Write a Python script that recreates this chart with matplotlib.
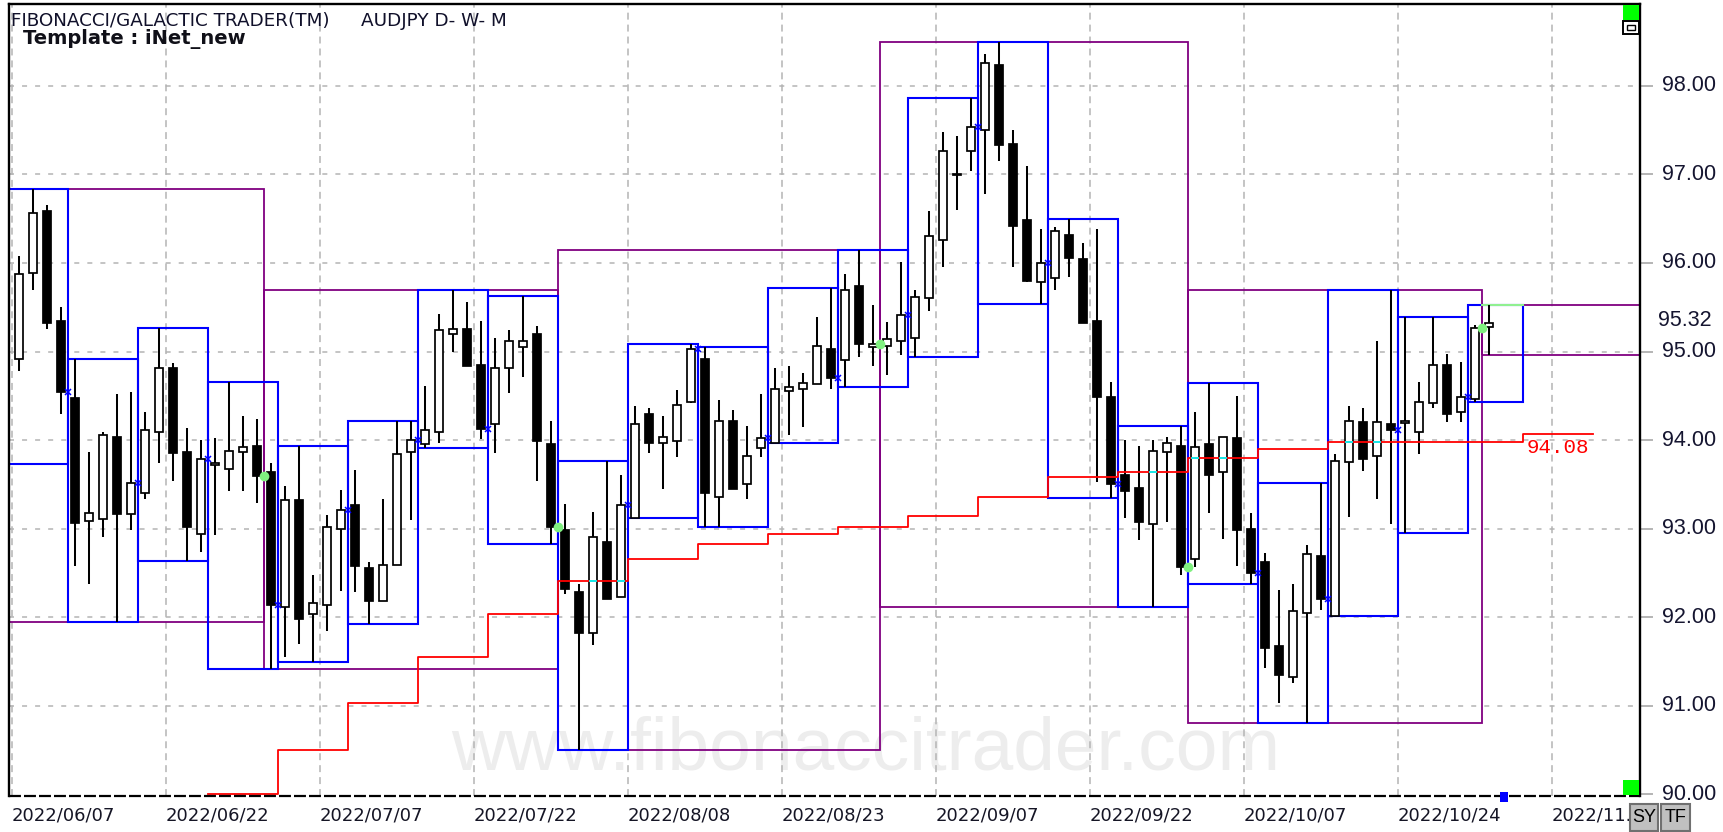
import numpy as np
import pandas as pd
import matplotlib
matplotlib.use("Agg")
import matplotlib.pyplot as plt
from matplotlib.patches import Rectangle
from matplotlib.transforms import blended_transform_factory as btf

plt.rcParams['lines.scale_dashes'] = False

# ---------------- data (AUDJPY daily) ----------------
start_date = "2022-06-07"
opens = [94.91, 95.885, 96.59, 95.35, 94.47, 93.09, 93.11, 94.04, 93.16, 93.40,
         94.09, 94.81, 93.86, 92.94, 93.72, 93.67, 93.86, 93.93, 93.64, 92.12,
         93.32, 92.03, 92.14, 93.00, 93.27, 92.55, 92.18, 92.59, 93.86, 93.96,
         94.09, 95.20, 95.26, 94.85, 94.18, 94.81, 95.05, 95.20, 93.95, 92.98,
         92.28, 91.82, 92.85, 92.23, 93.12, 94.30, 93.97, 93.99, 94.43, 94.91,
         93.36, 94.22, 93.50, 93.91, 93.97, 94.55, 94.58, 94.63, 95.03, 94.90,
         95.74, 95.05, 95.06, 95.12, 95.15, 95.60, 96.26, 96.99, 97.27, 97.50,
         98.24, 97.34, 96.48, 95.78, 95.83, 96.32, 96.05, 95.35, 94.49, 93.60,
         93.46, 93.05, 93.86, 93.93, 92.66, 93.95, 93.64, 94.02, 93.00, 92.62,
         91.67, 91.32, 92.05, 92.69, 92.01, 93.75, 94.20, 93.82, 94.18, 94.19,
         94.09, 94.42, 94.85, 94.32, 94.46, 95.28]
highs = [96.08, 96.83, 96.66, 95.50, 94.92, 93.86, 94.09, 94.52, 94.54, 94.32,
         95.27, 94.87, 94.14, 94.00, 94.02, 94.66, 94.27, 94.24, 93.74, 93.48,
         93.93, 92.48, 93.15, 93.44, 93.66, 92.62, 93.34, 94.21, 94.21, 94.61,
         95.42, 95.70, 95.56, 95.35, 95.15, 95.24, 95.63, 95.29, 94.22, 93.28,
         92.37, 93.19, 93.76, 93.60, 94.38, 94.36, 94.27, 94.57, 95.08, 95.05,
         94.45, 94.34, 94.16, 94.52, 94.81, 94.84, 94.76, 95.39, 95.72, 95.88,
         96.15, 95.53, 95.33, 96.01, 95.69, 96.59, 97.48, 97.43, 97.86, 98.36,
         98.50, 97.50, 97.09, 96.38, 96.41, 96.50, 96.23, 96.38, 94.66, 94.00,
         93.93, 94.00, 94.04, 94.16, 94.32, 94.64, 94.04, 94.50, 93.18, 92.73,
         92.31, 92.37, 92.81, 93.51, 93.84, 94.38, 94.36, 95.12, 95.69, 95.39,
         94.66, 95.39, 94.97, 94.88, 95.30, 95.53]
lows = [94.78, 95.70, 95.26, 94.29, 92.58, 92.38, 92.91, 91.95, 92.98, 93.34,
        93.74, 93.54, 92.63, 92.74, 92.93, 93.42, 93.42, 93.29, 91.41, 91.55,
        91.70, 91.49, 91.84, 92.29, 92.28, 91.92, 92.18, 92.59, 93.10, 93.91,
        93.97, 94.99, 94.84, 94.01, 93.85, 94.53, 94.71, 93.54, 92.83, 92.26,
        90.50, 91.68, 92.20, 92.23, 93.12, 93.85, 93.45, 93.81, 94.42, 93.02,
        93.02, 93.45, 93.34, 93.81, 93.97, 94.06, 94.15, 94.63, 94.58, 94.60,
        94.94, 94.84, 94.73, 94.96, 94.94, 95.46, 95.96, 96.60, 97.04, 96.78,
        97.15, 95.96, 95.78, 95.54, 95.69, 95.84, 95.32, 93.53, 93.35, 93.12,
        92.87, 92.11, 93.08, 92.48, 92.57, 93.18, 92.88, 92.58, 92.38, 91.43,
        91.03, 91.26, 90.81, 92.08, 92.01, 93.13, 93.65, 93.34, 93.05, 92.95,
        93.84, 94.36, 94.20, 94.20, 94.43, 94.96]
closes = [95.87, 96.57, 95.32, 94.54, 93.06, 93.18, 94.06, 93.17, 93.52, 94.11,
          94.81, 93.85, 93.02, 93.79, 93.74, 93.88, 93.92, 93.59, 92.14, 93.32,
          91.98, 92.16, 93.02, 93.21, 92.58, 92.18, 92.59, 93.84, 94.00, 94.11,
          95.24, 95.26, 94.84, 94.13, 94.81, 95.12, 95.12, 93.99, 93.02, 92.32,
          91.82, 92.91, 92.21, 93.27, 94.18, 93.97, 94.03, 94.40, 95.03, 93.40,
          94.22, 93.45, 93.82, 94.02, 94.58, 94.60, 94.65, 95.06, 94.70, 95.69,
          95.08, 95.08, 95.14, 95.41, 95.62, 96.30, 97.27, 97.01, 97.54, 98.26,
          97.33, 96.42, 95.80, 96.00, 96.36, 96.06, 95.32, 94.49, 93.50, 93.43,
          93.08, 93.88, 93.97, 92.57, 93.92, 93.61, 94.04, 92.98, 92.50, 91.65,
          91.35, 92.07, 92.71, 92.20, 93.76, 94.22, 93.79, 94.20, 94.11, 94.21,
          94.43, 94.85, 94.29, 94.49, 95.27, 95.32]
# off-chart bar of Mon 2022/06/06 (part of the first week / month range)
pre_high, pre_low = 94.60, 93.73
# weekly red step level (weeks starting 2022/06/27 ... 2022/10/31) and next-week level
red_levels = [90.00, 90.50, 91.03, 91.55, 92.03, 92.41, 92.66, 92.83, 92.94, 93.02,
              93.14, 93.36, 93.58, 93.64, 93.80, 93.90, 93.98, 93.98, 93.98]
red_next = 94.07
red_label = "94.08"
# the last label is cut by the SY button in the original
tick_labels = ["2022/06/07", "2022/06/22", "2022/07/07", "2022/07/22", "2022/08/08",
               "2022/08/23", "2022/09/07", "2022/09/22", "2022/10/07", "2022/10/24",
               "2022/11."]
tick_step = 11
price_ticks = [90, 91, 92, 93, 94, 95, 96, 97, 98]
title1 = "FIBONACCI/GALACTIC TRADER(TM)"
title2 = "AUDJPY D- W- M"
title3 = "Template : iNet_new"
watermark = "www.fibonaccitrader.com"

# ---------------- setup ----------------
O = np.array(opens); Hh = np.array(highs); L = np.array(lows); C = np.array(closes)
n = len(O)
dates = pd.bdate_range(start_date, periods=n)

W, H = 1724, 832
fig = plt.figure(figsize=(W / 100, H / 100), dpi=100, facecolor='white')
ax = fig.add_axes([9 / W, 1 - 796 / H, (1640 - 9) / W, 792 / H])
ax.set_facecolor('white')
ax.set_xlim(-10 / 14, (1640 - 19) / 14)
ax.set_ylim(89.98, 98.925)
ax.set_xticks([]); ax.set_yticks([])
for s in ['left', 'top', 'right']:
    ax.spines[s].set_linewidth(1.7)
    ax.spines[s].set_color('black')
ax.spines['bottom'].set_visible(False)
ax.plot([0, 1], [0, 0], transform=ax.transAxes, color='black', lw=1.6,
        dashes=(8.6, 2.2), clip_on=False, zorder=6)

GRID = '#b4b4b4'
for k in range(0, 111, tick_step):
    ax.axvline(k - 0.5, color=GRID, lw=1.1, dashes=(5, 3.6), zorder=1)
for p in price_ticks[1:]:
    ax.axhline(p, color=GRID, lw=1.1, dashes=(3.6, 5.8), zorder=1)


def px(x):
    return x / W


def py(y):
    return 1 - y / H


def ranges(keys):
    keys = np.asarray(keys.astype(str))
    out = []
    for u in pd.unique(keys):
        sel = np.where(keys == u)[0]
        out.append([sel[0], sel[-1], Hh[sel].max(), L[sel].min()])
    return out


weeks = ranges(dates.to_period('W'))
months = ranges(dates.to_period('M'))
proj_end = n + 1.4      # end of current (partial) week on the chart
red_end = n + 6.4


def box_list(rs, first_back, last_end):
    boxes = []
    for i, (s, e, hi, lo) in enumerate(rs):
        x0, x1 = s - 0.5, e + 0.5
        if i == 0:
            x0 = s - first_back
            hi = max(hi, pre_high); lo = min(lo, pre_low)
        if i == len(rs) - 1:
            x1 = last_end
        boxes.append((s, x0, x1, lo, hi))
    return boxes


wboxes = box_list(weeks, 1.5, proj_end)
mboxes = box_list(months, 5.5, 140)

PURPLE = '#800080'
BLUE = '#0000ff'
for (s, x0, x1, lo, hi) in mboxes:
    ax.add_patch(Rectangle((x0, lo), x1 - x0, hi - lo, fill=False, edgecolor=PURPLE,
                           lw=1.3, zorder=2))
for (s, x0, x1, lo, hi) in wboxes:
    ax.add_patch(Rectangle((x0, lo), x1 - x0, hi - lo, fill=False, edgecolor=BLUE,
                           lw=1.5, zorder=2.2))

# light green overlay on current week's top inside current month
ax.plot([mboxes[-1][1], wboxes[-1][2]], [wboxes[-1][4], wboxes[-1][4]],
        color='#90f090', lw=1.5, zorder=2.4)

# candles
bw = 0.64
for k in range(n):
    o, h, l, c = O[k], Hh[k], L[k], C[k]
    ax.plot([k, k], [l, h], color='black', lw=1.45, zorder=3, solid_capstyle='butt')
    up = c >= o
    ax.add_patch(Rectangle((k - bw / 2, min(o, c)), bw, abs(c - o),
                           facecolor='white' if up else 'black', edgecolor='black',
                           lw=1.25, zorder=4))

# red weekly step line
red_weeks = [w for w in wboxes if w[0] >= 14]
xs = [w[1] for w in red_weeks] + [proj_end, red_end]
ys = list(red_levels) + [red_next, red_next]
ax.step(xs, ys, where='post', color='#ff0000', lw=1.3, zorder=5)
# XOR look: red inside white bodies appears cyan
for (w, lvl) in zip(red_weeks, red_levels):
    s = w[0]
    e = min(s + 5, n)
    for k in range(s, e):
        if C[k] > O[k] and O[k] < lvl < C[k]:
            ax.plot([k - bw / 2 + 0.08, k + bw / 2 - 0.08], [lvl, lvl], color='#00ffff',
                    lw=1.3, zorder=5.5)

# weekly open markers (previous close) and monthly dots
for (s, x0, x1, lo, hi) in wboxes:
    if s >= 1:
        ax.plot(x0, C[s - 1], marker='x', ms=5, mew=1.1, color=BLUE, zorder=6)
for (s, x0, x1, lo, hi) in mboxes:
    if s >= 1:
        ax.plot(x0, C[s - 1], marker='o', ms=7, mec='none', color='#80f080', zorder=6)

# red label
ax.text(px(1527), red_next - 0.05, red_label, transform=btf(fig.transFigure, ax.transData),
        color='#ff0000', fontsize=15, family='Liberation Mono', ha='left', va='top',
        clip_on=False, zorder=7)

# watermark
ax.text(px(866), py(770), watermark, transform=fig.transFigure, fontsize=54,
        family='Liberation Sans', color='#ededed', ha='center', va='baseline',
        zorder=0.5, clip_on=False)

# titles
ax.text(px(11), py(21), title1, transform=fig.transFigure, fontsize=13.2,
        family='DejaVu Sans', color='#10102a', ha='left', va='center', zorder=8)
ax.text(px(361), py(21), title2, transform=fig.transFigure, fontsize=13.2,
        family='DejaVu Sans', color='#10102a', ha='left', va='center', zorder=8)
ax.text(px(23), py(39), title3, transform=fig.transFigure, fontsize=14,
        family='DejaVu Sans', weight='bold', color='#101018', ha='left', va='center',
        zorder=8)

# x labels
tx = btf(ax.transData, fig.transFigure)
for i, lab in enumerate(tick_labels):
    ax.text(i * tick_step - 0.55, py(815), lab, transform=tx, fontsize=13,
            family='DejaVu Sans', color='#151525', ha='left', va='center',
            clip_on=False)

# price labels and ticks
ty = btf(fig.transFigure, ax.transData)
for p in price_ticks:
    ax.text(px(1716), p, f"{p:.2f}", transform=ty, fontsize=15.5, family='Liberation Sans',
            color='#151530', ha='right', va='center', clip_on=False)
    ax.plot([px(1642), px(1652)], [p, p], transform=ty, color=GRID, lw=1.4, clip_on=False)
ax.text(px(1712), C[-1] + 0.03, f"{C[-1]:.2f}", transform=ty, fontsize=15.5,
        family='Liberation Sans', color='#151530', ha='right', va='center', clip_on=False)


def frect(x, y, w, h, **kw):
    r = Rectangle((px(x), py(y + h)), w / W, h / H, transform=fig.transFigure, **kw)
    fig.add_artist(r)
    return r


frect(1623, 5, 16, 15, facecolor='#00ff00', edgecolor='none', zorder=10)
frect(1623, 21, 16, 13, facecolor='white', edgecolor='black', lw=1.4, zorder=10)
frect(1627, 25, 8, 5, facecolor='white', edgecolor='black', lw=1.0, zorder=10)
frect(1623, 780, 16, 15, facecolor='#00ff00', edgecolor='none', zorder=10)
frect(1500, 792, 8, 10, facecolor='#0000ff', edgecolor='none', zorder=10)
frect(1630, 804, 28, 27, facecolor='#c0c0c0', edgecolor='#707070', lw=1.5, zorder=10)
frect(1661, 804, 29, 27, facecolor='#c0c0c0', edgecolor='#707070', lw=1.5, zorder=10)
fig.text(px(1644), py(818), "SY", fontsize=13, family='Liberation Sans', color='black',
         ha='center', va='center', zorder=11)
fig.text(px(1675.5), py(818), "TF", fontsize=13, family='Liberation Sans', color='black',
         ha='center', va='center', zorder=11)

fig.savefig("out.png", dpi=100, facecolor='white')
